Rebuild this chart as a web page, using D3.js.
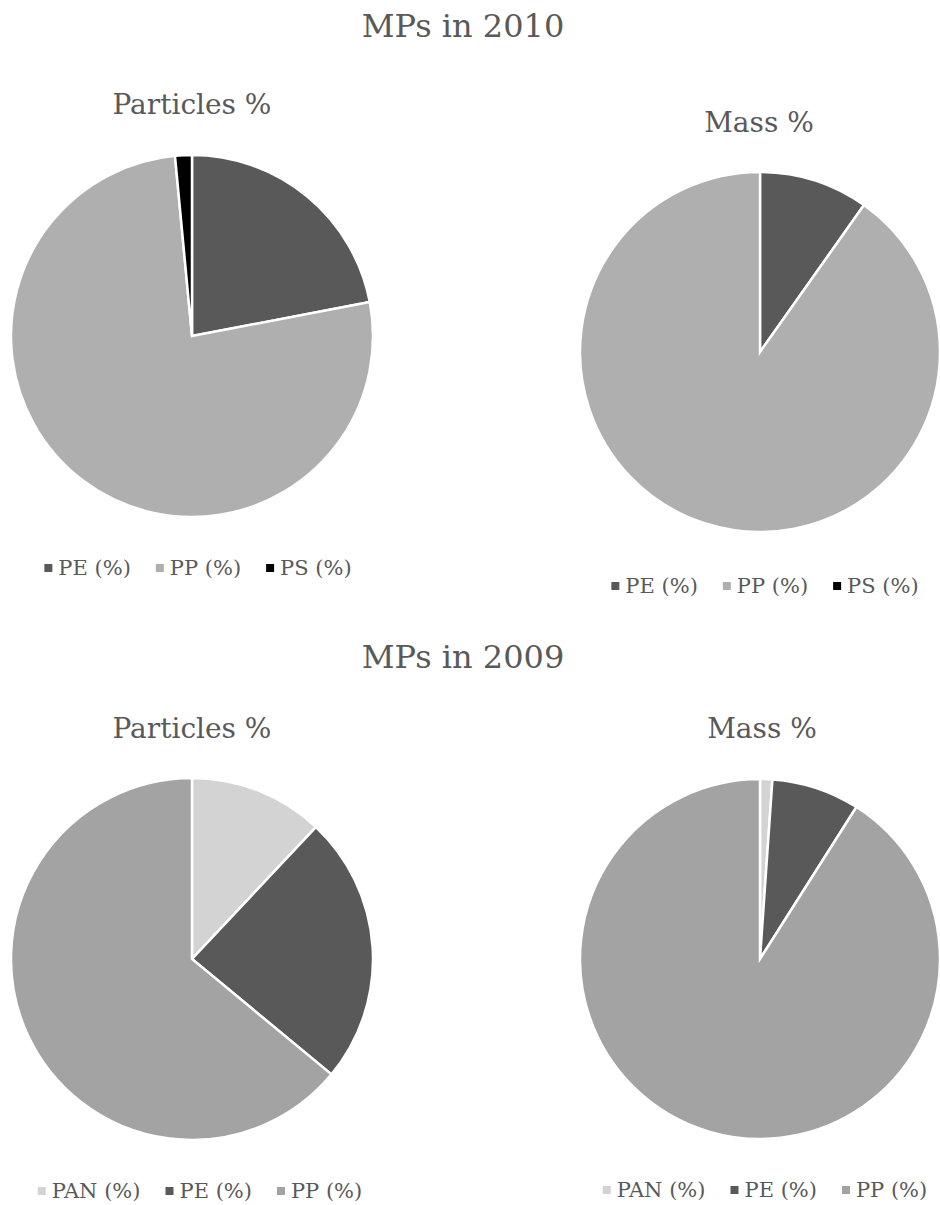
<!DOCTYPE html>
<html>
<head>
<meta charset="utf-8">
<script src="https://cdn.jsdelivr.net/npm/d3@7"></script>
<style>
  body { margin: 0; background: #fff; }
</style>
</head>
<body>
<svg id="chart" width="940" height="1205"></svg>
<script>
// data
const series2010 = ['PE (%)', 'PP (%)', 'PS (%)']
const particles2010 = [22, 76.5, 1.5]
const mass2010 = [9.8, 90.2, 0]

const series2009 = ['PAN (%)', 'PE (%)', 'PP (%)']
const particles2009 = [12, 24, 64]
const mass2009 = [1.1, 7.9, 91]

const colors2010 = ['#595959', '#afafaf', '#000000']
const colors2009 = ['#d3d3d3', '#595959', '#a3a3a3']

const fontFamily = "'DejaVu Serif', serif"
const textColor = '#595959'

const svg = d3.select('#chart')
  .attr('font-family', fontFamily)

const pie = d3.pie().sort(null).value(d => d)

// layout for each panel
const panels = [
  { title: 'Particles %', titleX: 192, titleY: 114, cx: 192, cy: 336, r: 181, values: particles2010, names: series2010, colors: colors2010, legendX: 198, legendY: 575 },
  { title: 'Mass %', titleX: 759, titleY: 132, cx: 760, cy: 352, r: 180, values: mass2010, names: series2010, colors: colors2010, legendX: 765, legendY: 593 },
  { title: 'Particles %', titleX: 192, titleY: 738, cx: 192, cy: 959, r: 181, values: particles2009, names: series2009, colors: colors2009, legendX: 200, legendY: 1198 },
  { title: 'Mass %', titleX: 762, titleY: 738, cx: 760, cy: 959, r: 180, values: mass2009, names: series2009, colors: colors2009, legendX: 765, legendY: 1197 }
]

// main titles
svg.append('text').attr('x', 463).attr('y', 37).attr('text-anchor', 'middle')
  .attr('font-family', fontFamily).attr('fill', textColor)
  .style('font-size', '32px').text('MPs in 2010')
svg.append('text').attr('x', 463).attr('y', 668).attr('text-anchor', 'middle')
  .attr('font-family', fontFamily).attr('fill', textColor)
  .style('font-size', '32px').text('MPs in 2009')

panels.forEach(p => {
  svg.append('text')
    .attr('x', p.titleX).attr('y', p.titleY)
    .attr('text-anchor', 'middle')
    .attr('font-family', fontFamily).attr('fill', textColor)
    .style('font-size', '28px')
    .text(p.title)

  const arc = d3.arc().innerRadius(0).outerRadius(p.r)
  const g = svg.append('g').attr('transform', `translate(${p.cx},${p.cy})`)

  g.selectAll('path')
    .data(pie(p.values))
    .enter()
    .append('path')
    .attr('d', arc)
    .attr('fill', (d, i) => p.colors[i])
    .attr('stroke', '#fff')
    .attr('stroke-width', d => d.value > 0 ? 2.5 : 0)

  // legend, centered under the pie
  const lg = svg.append('g')
  const items = lg.selectAll('g')
    .data(p.names)
    .enter()
    .append('g')

  items.append('rect')
    .attr('width', 8).attr('height', 8)
    .attr('y', -11)
    .attr('fill', (d, i) => p.colors[i])

  items.append('text')
    .attr('x', 14)
    .attr('font-family', fontFamily).attr('fill', textColor)
    .style('font-size', '21px')
    .text(d => d)

  let x = 0
  items.each(function () {
    const w = this.getBBox().width
    d3.select(this).attr('transform', `translate(${x},0)`)
    x += w + 25
  })
  const total = x - 25
  lg.attr('transform', `translate(${p.legendX - total / 2},${p.legendY})`)
})
</script>
</body>
</html>
